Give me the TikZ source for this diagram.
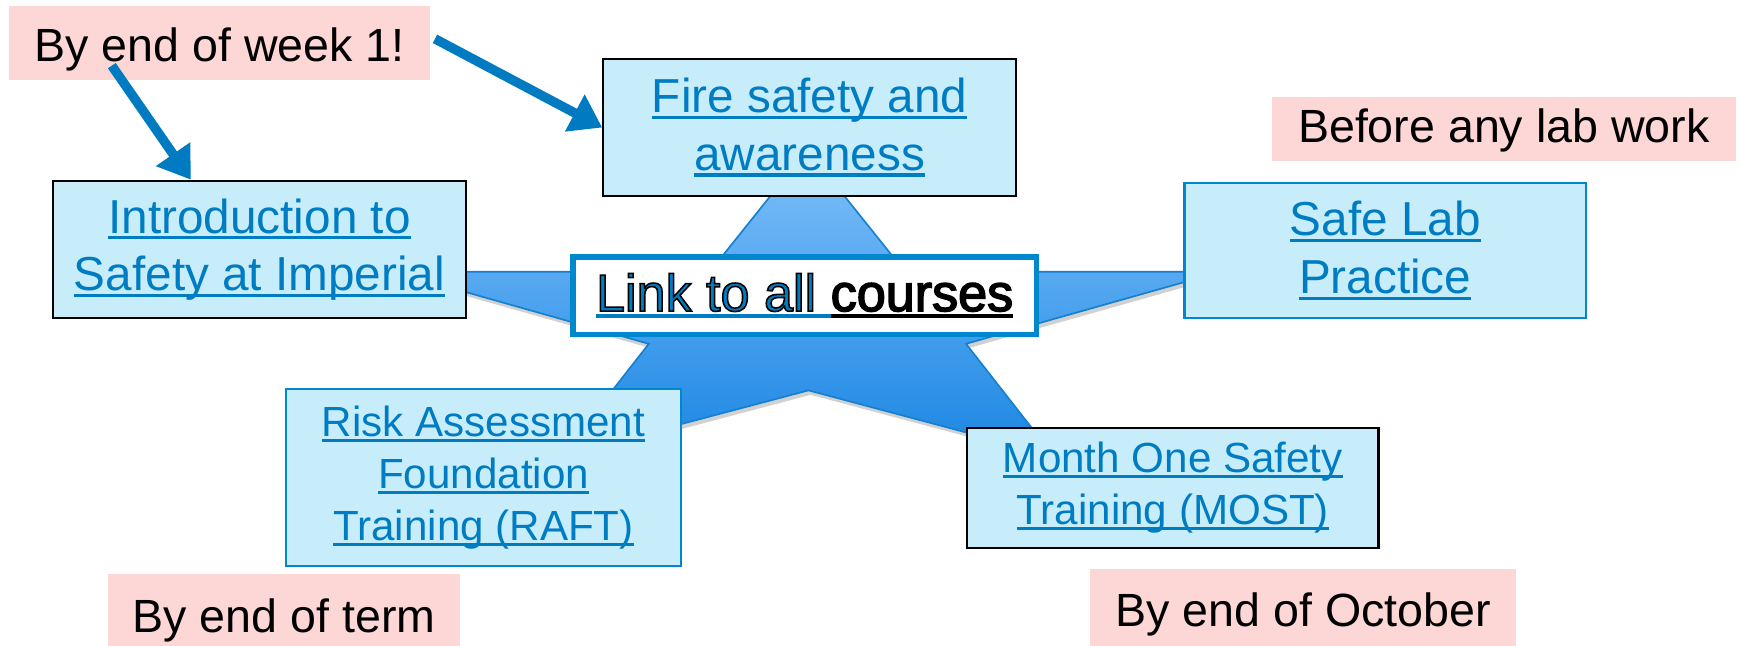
\documentclass[tikz,border=0pt]{standalone}
\usepackage{fontspec}
\setmainfont{Liberation Sans}
\usetikzlibrary{arrows.meta,calc}
\definecolor{linkblue}{RGB}{0,124,195}
\definecolor{boxfill}{RGB}{199,237,251}
\definecolor{pinkfill}{RGB}{253,214,214}
\definecolor{arrowblue}{RGB}{0,122,192}
\definecolor{borderblue}{RGB}{0,136,206}
\definecolor{startop}{RGB}{128,192,250}
\definecolor{starbot}{RGB}{26,134,226}
\definecolor{starline}{RGB}{20,128,210}
\newsavebox\ulbox
\newcommand\ulk[2][linkblue]{\sbox\ulbox{#2}\rlap{\color{#1}\rule[-0.13em]{\wd\ulbox}{0.07em}}\usebox\ulbox}
\newcommand\outl{\special{pdf:literal direct 0 G 2 Tr 1.4 w}}
\newcommand\outloff{\special{pdf:literal direct 0 Tr}}
\begin{document}
\begin{tikzpicture}[x=1pt,y=-1pt,
  linkbox/.style={rectangle, fill=boxfill, line width=2pt, align=center, inner sep=0pt,
    font=\fontsize{43}{52}\selectfont, text=linkblue},
  smallbox/.style={linkbox, font=\fontsize{38}{47}\selectfont},
  pinkbox/.style={rectangle, fill=pinkfill, inner sep=0pt, font=\fontsize{42}{50}\selectfont, text=black},
  thickarrow/.style={draw=arrowblue, line width=8.5pt, -{Triangle[length=28pt,width=36pt]}},
]
\useasboundingbox (0,0) rectangle (1568,581.6);
% star shadow and star
\fill[black, opacity=0.18] ($(728,135)+(2,4)$) -- ($(816,245)+(2,4)$) -- ($(1101,245)+(2,4)$) -- ($(871,310)+(2,4)$) -- ($(950,411)+(2,4)$) -- ($(729,352)+(2,4)$) -- ($(506,411)+(2,4)$) -- ($(585,310)+(2,4)$) -- ($(355,245)+(2,4)$) -- ($(640,245)+(2,4)$) -- cycle;
\shade[top color=startop, bottom color=starbot, draw=starline, line width=1.5pt]
  (728,135) -- (816,245) -- (1101,245) -- (871,310) -- (950,411) -- (729,352) -- (506,411) -- (585,310) -- (355,245) -- (640,245) -- cycle;
% course boxes
\node[linkbox, draw=black, minimum width=372pt, minimum height=124pt] (fire) at (730,115)
  {\ulk{Fire safety and}\\\ulk{awareness}};
\node[linkbox, draw=black, minimum width=372pt, minimum height=124pt] (intro) at (234,225)
  {\ulk{Introduction to}\\\ulk{Safety at Imperial}};
\node[linkbox, draw=borderblue, minimum width=362pt, minimum height=122pt] (safelab) at (1249,226)
  {\ulk{Safe Lab}\\\ulk{Practice}};
\node[smallbox, draw=borderblue, minimum width=356pt, minimum height=159pt] (raft) at (436,430.5)
  {\ulk{Risk Assessment}\\\ulk{Foundation}\\\ulk{Training (RAFT)}};
\node[smallbox, draw=black, minimum width=371pt, minimum height=108pt] (most) at (1057.5,440)
  {\ulk{Month One Safety}\\\ulk{Training (MOST)}};
\node[rectangle, draw=borderblue, line width=5pt, fill=white, inner sep=0pt,
  minimum width=418pt, minimum height=70pt, font=\fontsize{47}{56}\selectfont] (center) at (725.5,266.5)
  {\sbox\ulbox{Link to all }\rlap{\color{linkblue}\rule[-0.13em]{\wd\ulbox}{0.07em}}{\color{linkblue}\outl Link to all }%
   \sbox\ulbox{courses}\rlap{\rule[-0.13em]{\wd\ulbox}{0.07em}}{\outl courses}\outloff};
% timing labels
\node[pinkbox, minimum width=380pt, text height=50pt, text depth=17pt] (week) at (198,38.5) {By end of week 1!};
\node[pinkbox, minimum width=418pt, text height=41pt, text depth=17pt] (before) at (1356,116.5) {Before any lab work};
\node[pinkbox, minimum width=318pt, text height=53pt, text depth=30pt, anchor=north] (term) at (256,517) {By end of term};
\node[pinkbox, minimum width=384pt, text height=52pt, text depth=35pt, anchor=north] (october) at (1175,513) {By end of October};
% arrows
\coordinate (a1s) at ([xshift=93pt,yshift=13pt]week.south west);
\coordinate (a1e) at ([xshift=125pt]intro.north west);
\coordinate (a2s) at ([xshift=4pt,yshift=3.5pt]week.east);
\draw[thickarrow] (a1s) -- (a1e);
\draw[thickarrow] (a2s) -- (fire.west);
\end{tikzpicture}
\end{document}
